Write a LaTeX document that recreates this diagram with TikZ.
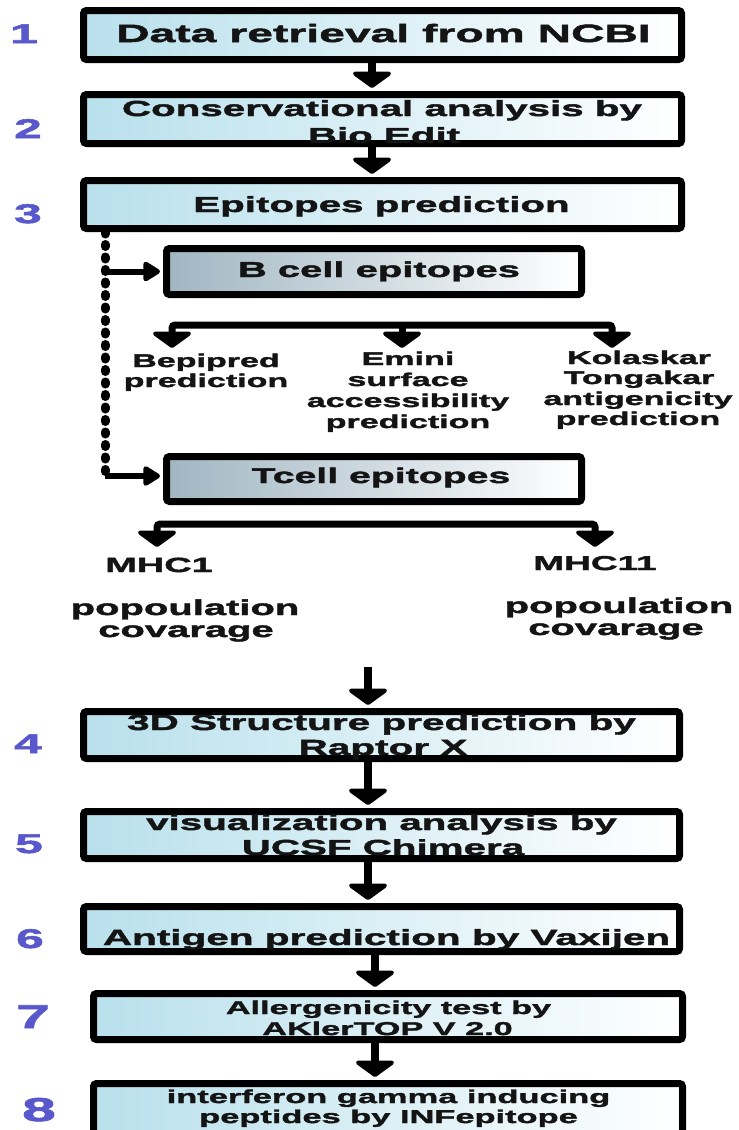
\documentclass[tikz,border=0pt]{standalone}
\usepackage{fontspec}
\usetikzlibrary{arrows.meta,calc}
\newfontfamily\wf{Liberation Sans Bold}[FakeStretch=1.85,FakeBold=2]
\definecolor{numblue}{RGB}{88,88,204}
\definecolor{boxblue}{RGB}{184,224,236}
\definecolor{cellgray}{RGB}{160,182,194}
\definecolor{inkblack}{RGB}{20,20,20}
\newcommand\fsz[1]{\fontsize{#1}{#1}\selectfont}
\begin{document}
\begin{tikzpicture}[x=1pt,y=-1pt,
  box/.style={draw=black, line width=7pt, rounded corners=3pt, inner sep=0pt,
    left color=boxblue, right color=white},
  cellbox/.style={box, left color=cellgray, right color=white},
  txt/.style={inner sep=0pt, anchor=base, text=inkblack, font=\wf},
  num/.style={inner sep=0pt, anchor=base, text=numblue, font=\wf},
  vtip/.tip={Triangle[width=46pt,length=17pt,round]},
  htip/.tip={Triangle[width=22pt,length=19pt,round]},
  varr/.style={line width=8pt, -vtip, shorten >=3pt},
  harr/.style={line width=6pt, -htip, shorten >=3pt},
  bar/.style={line width=7pt, vtip-vtip, rounded corners=3pt},
  dotline/.style={line width=9pt, line cap=round, dash pattern=on 2pt off 10.5pt}
]
\useasboundingbox (0,0) rectangle (739,1130);
\clip (0,0) rectangle (739,1130);
\fill[white] (0,0) rectangle (739,1130);

% boxes
\node[box, minimum width=598pt, minimum height=49pt] (b1) at (382.5,35) {};
\node[box, minimum width=598pt, minimum height=49pt] (b2) at (382.5,119) {};
\node[box, minimum width=598pt, minimum height=48pt] (b3) at (382.5,204.5) {};
\node[cellbox, minimum width=415pt, minimum height=46pt] (bc) at (374,271.5) {};
\node[cellbox, minimum width=415pt, minimum height=45pt] (tc) at (374,479) {};
\node[box, minimum width=596pt, minimum height=47pt] (b4) at (381.5,735) {};
\node[box, minimum width=596pt, minimum height=47pt] (b5) at (381.5,835) {};
\node[box, minimum width=596pt, minimum height=45pt] (b6) at (381.5,929) {};
\node[box, minimum width=589pt, minimum height=46pt] (b7) at (388,1016.5) {};
\node[box, minimum width=589pt, minimum height=63pt] (b8) at (388,1115) {};

% numbers
\node[num, font=\wf\fsz{27}] (n1) at (24,43) {1};
\node[num, font=\wf\fsz{27}] (n2) at (28,138) {2};
\node[num, font=\wf\fsz{27}] (n3) at (28,223) {3};
\node[num, font=\wf\fsz{27}] (n4) at (28,753) {4};
\node[num, font=\wf\fsz{27}] (n5) at (29,853) {5};
\node[num, font=\wf\fsz{27}] (n6) at (30,948) {6};
\node[num, font=\wf\fsz{33}] (n7) at (33,1028) {7};
\node[num, font=\wf\fsz{33}] (n8) at (39,1121) {8};

% box texts
\node[txt, font=\wf\fsz{25}] (t1) at (383.5,42) {Data retrieval from NCBI};
\node[txt, font=\wf\fsz{21.8}] (t2a) at (382,116) {Conservational analysis by};
\node[txt, font=\wf\fsz{21.8}] (t2b) at (384,143) {Bio Edit};
\node[txt, font=\wf\fsz{21.8}] (t3) at (381.5,212) {Epitopes prediction};
\node[txt, font=\wf\fsz{21.6}] (tb) at (379,277) {B cell epitopes};
\node[txt, font=\wf\fsz{21.2}] (tt) at (381,483) {Tcell epitopes};

% B cell branches
\node[txt, font=\wf\fsz{18.4}] (bp1) at (206,367) {Bepipred};
\node[txt, font=\wf\fsz{18.4}] (bp2) at (206,387) {prediction};
\node[txt, font=\wf\fsz{18.4}] (em1) at (408,365) {Emini};
\node[txt, font=\wf\fsz{18.4}] (em2) at (408,386) {surface};
\node[txt, font=\wf\fsz{18.4}] (em3) at (408,407) {accessibility};
\node[txt, font=\wf\fsz{18.4}] (em4) at (408,428) {prediction};
\node[txt, font=\wf\fsz{18.4}] (ko1) at (639,364) {Kolaskar};
\node[txt, font=\wf\fsz{18.4}] (ko2) at (639,384) {Tongakar};
\node[txt, font=\wf\fsz{18.4}] (ko3) at (638,405) {antigenicity};
\node[txt, font=\wf\fsz{18.4}] (ko4) at (638,425) {prediction};

% T cell branches
\node[txt, font=\wf\fsz{20.5}] (m1) at (159,572) {MHC1};
\node[txt, font=\wf\fsz{20}] (m2) at (595,570) {MHC11};
\node[txt, font=\wf\fsz{21.6}] (p1a) at (185,615) {popoulation};
\node[txt, font=\wf\fsz{21.6}] (p1b) at (186,637) {covarage};
\node[txt, font=\wf\fsz{21.6}] (p2a) at (619,613) {popoulation};
\node[txt, font=\wf\fsz{21.6}] (p2b) at (616,635) {covarage};

% lower box texts
\node[txt, font=\wf\fsz{21.9}] (t4a) at (381.5,730) {3D Structure prediction by};
\node[txt, font=\wf\fsz{21.9}] (t4b) at (383,755) {Raptor X};
\node[txt, font=\wf\fsz{21.8}] (t5a) at (381.5,830) {visualization analysis by};
\node[txt, font=\wf\fsz{21.8}] (t5b) at (383,855) {UCSF Chimera};
\node[txt, font=\wf\fsz{21.9}] (t6) at (386.5,945) {Antigen prediction by Vaxijen};
\node[txt, font=\wf\fsz{18.5}] (t7a) at (388.5,1014) {Allergenicity test by};
\node[txt, font=\wf\fsz{18.5}] (t7b) at (387.5,1035) {AKlerTOP V 2.0};
\node[txt, font=\wf\fsz{18.6}] (t8a) at (388.5,1103) {interferon gamma inducing};
\node[txt, font=\wf\fsz{18.6}] (t8b) at (388.5,1123) {peptides by INFepitope};

% coordinates for connectors
\coordinate (ax1) at (372,0);
\coordinate (ax2) at (368,0);
\coordinate (ax3) at (375,0);
\coordinate (dl) at (105,0);
\coordinate (dend) at (105,478);
\coordinate (tcj) at (105,476);
\coordinate (bbL) at (172,325);
\coordinate (bbM) at (402,325);
\coordinate (bbR) at (612,325);
\coordinate (bpT) at (172,348);
\coordinate (emT) at (402,348);
\coordinate (koT) at (612,348);
\coordinate (tbL) at (157,524);
\coordinate (tbR) at (595,524);
\coordinate (m1T) at (157,547);
\coordinate (m2T) at (595,547);
\coordinate (a4s) at (368,667);

% main arrows
\draw[varr] (b1.south -| ax1) -- (b2.north -| ax1);
\draw[varr] (b2.south -| ax1) -- (b3.north -| ax1);
\draw[varr] (a4s) -- (b4.north -| a4s);
\draw[varr] (b4.south -| ax2) -- (b5.north -| ax2);
\draw[varr] (b5.south -| ax2) -- (b6.north -| ax2);
\draw[varr] (b6.south -| ax3) -- (b7.north -| ax3);
\draw[varr] (b7.south -| ax3) -- (b8.north -| ax3);

% dotted branch line
\draw[dotline] (b3.south -| dl) -- (dend);
\draw[harr] (bc.west -| dl) -- (bc.west);
\draw[harr] (tcj) -- (tcj -| tc.west);

% B cell branch bar
\draw[bar] (bpT) -- (bbL) -- (bbR) -- (koT);
\draw[varr, line width=7pt, shorten >=0pt] (bbM) -- (emT);

% T cell branch bar
\draw[bar] (m1T) -- (tbL) -- (tbR) -- (m2T);
\end{tikzpicture}
\end{document}
